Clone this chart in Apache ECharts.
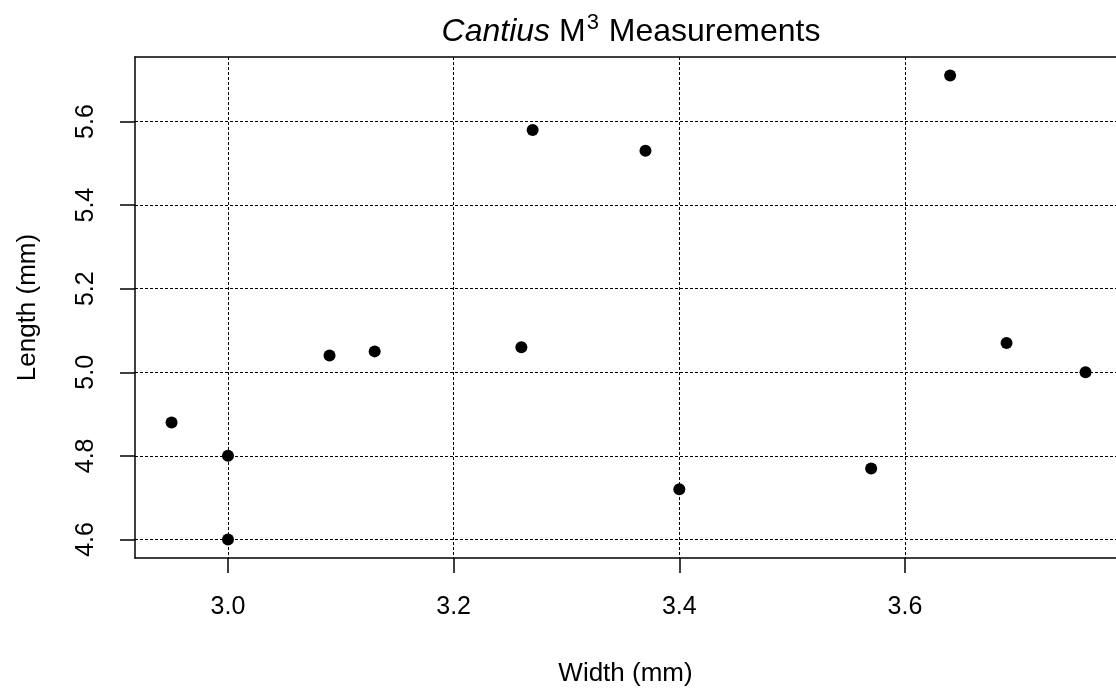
<!DOCTYPE html>
<html>
<head>
<meta charset="utf-8">
<script src="https://cdn.jsdelivr.net/npm/echarts@6/dist/echarts.min.js"></script>
<style>
  html, body { margin: 0; padding: 0; background: #fff; }
  #chart { width: 1116px; height: 693px; }
</style>
</head>
<body>
<div id="chart"></div>
<script>
// width (mm) / length (mm) of each M3
const widthValues = [2.95, 3.0, 3.0, 3.09, 3.13, 3.26, 3.27, 3.37, 3.40, 3.57, 3.64, 3.69, 3.76];
const lengthValues = [4.88, 4.80, 4.60, 5.04, 5.05, 5.06, 5.58, 5.53, 4.72, 4.77, 5.71, 5.07, 5.00];
// tick labels
const xTicks = [3.0, 3.2, 3.4, 3.6];
const yTicks = [4.6, 4.8, 5.0, 5.2, 5.4, 5.6];

const fontFamily = "'Liberation Sans', Arial, sans-serif";
const points = widthValues.map((w, i) => [w, lengthValues[i]]);

// plot region is cut at the right edge of the picture
const xMin = 2.9176;
const xMax = 3.787;
const yMin = 4.5556;
const yMax = 5.7544;

const chart = echarts.init(document.getElementById("chart"));

// R-style axis: outside ticks, dotted grid
function axisStyle(ticks) {
  return {
    axisLine: { show: true, onZero: false, lineStyle: { color: "#000", width: 1.5 } },
    axisTick: {
      show: true,
      inside: false,
      length: 15,
      customValues: ticks,
      lineStyle: { color: "#000", width: 1.5 },
    },
    splitLine: {
      show: true,
      lineStyle: { color: "#000", width: 1, type: [3, 2] },
    },
    nameTextStyle: { color: "#000", fontSize: 26, fontFamily },
  };
}

const option = {
  backgroundColor: "#fff",
  animation: false,
  title: {
    left: 626,
    top: 7,
    textAlign: "center",
    text: "{i|Cantius} M{sup|3} Measurements",
    textStyle: {
      fontSize: 32,
      fontWeight: "normal",
      color: "#000",
      fontFamily,
      lineHeight: 40,
      rich: {
        i: { fontStyle: "italic", fontSize: 32, fontFamily, color: "#000", lineHeight: 40 },
        sup: { fontSize: 22, fontFamily, color: "#000", verticalAlign: "top", lineHeight: 40, padding: [0, 1, 14, 1] },
      },
    },
  },
  grid: {
    left: 135,
    top: 57,
    right: 0,
    height: 501,
    show: false,
    containLabel: false,
  },
  xAxis: [
    Object.assign(axisStyle(xTicks), {
      type: "value",
      position: "bottom",
      min: xMin,
      max: xMax,
      name: "Width (mm)",
      nameLocation: "middle",
      nameGap: 103,
      axisLabel: {
        customValues: xTicks,
        margin: 37,
        color: "#000",
        fontSize: 25,
        fontFamily,
        formatter: (v) => v.toFixed(1),
      },
    }),
    // top side of the box
    {
      type: "value",
      position: "top",
      min: xMin,
      max: xMax,
      axisLine: { show: true, lineStyle: { color: "#000", width: 1.5 } },
      axisTick: { show: false },
      axisLabel: { show: false },
      splitLine: { show: false },
    },
  ],
  yAxis: Object.assign(axisStyle(yTicks), {
    type: "value",
    min: yMin,
    max: yMax,
    name: "Length (mm)",
    nameLocation: "middle",
    nameGap: 94,
    axisLabel: {
      customValues: yTicks,
      rotate: 90,
      margin: 36,
      color: "#000",
      fontSize: 25,
      fontFamily,
      formatter: (v) => v.toFixed(1),
    },
  }),
  series: [
    {
      type: "scatter",
      xAxisIndex: 0,
      data: points,
      symbol: "circle",
      symbolSize: 12,
      itemStyle: { color: "#000", opacity: 1 },
    },
  ],
};
chart.setOption(option);
</script>
</body>
</html>
